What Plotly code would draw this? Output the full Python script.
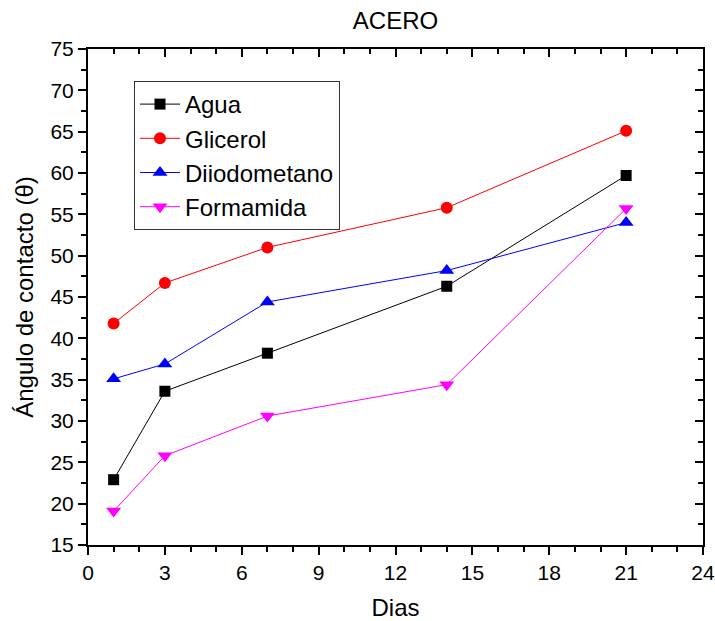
import plotly.graph_objects as go

dias = [1, 3, 7, 14, 21]
agua = [22.9, 33.6, 38.2, 46.3, 59.7]
glicerol = [41.8, 46.7, 51.0, 55.8, 65.1]
diiodometano = [35.1, 36.9, 44.4, 48.2, 54.0]
formamida = [19.1, 25.8, 30.6, 34.4, 55.7]

series = [
    ("Agua", agua, "black", "square", 11),
    ("Glicerol", glicerol, "#FF0000", "circle", 12),
    ("Diiodometano", diiodometano, "#0000FF", "triangle-up", 13),
    ("Formamida", formamida, "#FF00FF", "triangle-down", 13),
]

FONT = "Liberation Sans, Arial, sans-serif"

fig = go.Figure()
for name, vals, col, sym, sz in series:
    fig.add_trace(go.Scatter(
        x=dias, y=vals, name=name, mode="lines+markers",
        line=dict(color=col, width=1),
        marker=dict(color=col, symbol=sym, size=sz),
    ))

# invisible helper traces so the mirrored (inside-tick) axes are drawn
fig.add_trace(go.Scatter(x=dias, y=agua, xaxis="x2", yaxis="y", mode="markers",
                         marker=dict(opacity=0), showlegend=False, hoverinfo="skip"))
fig.add_trace(go.Scatter(x=dias, y=agua, xaxis="x", yaxis="y2", mode="markers",
                         marker=dict(opacity=0), showlegend=False, hoverinfo="skip"))

fig.update_layout(
    width=715, height=621,
    margin=dict(l=88, r=12, t=49, b=76, autoexpand=False),
    paper_bgcolor="white", plot_bgcolor="white",
    font=dict(family=FONT, color="black"),
    title=dict(text="ACERO", font=dict(size=24, family=FONT, color="black"),
               x=0.5, xref="paper", xanchor="center", y=1 - 21 / 621, yanchor="middle"),
    xaxis=dict(
        range=[0, 24], tick0=0, dtick=3, showgrid=False, zeroline=False, automargin=False,
        showline=True, linecolor="black", linewidth=2, mirror=True,
        ticks="outside", ticklen=8, tickwidth=2, tickcolor="black",
        tickfont=dict(size=21, family=FONT),
        minor=dict(dtick=1, ticks="outside", ticklen=5, tickwidth=2, tickcolor="black", showgrid=False),
        title=dict(text="Dias", font=dict(size=24, family=FONT), standoff=16),
    ),
    yaxis=dict(
        range=[15, 75], tick0=15, dtick=5, showgrid=False, zeroline=False, automargin=False,
        showline=True, linecolor="black", linewidth=2, mirror=True,
        ticks="outside", ticklen=8, tickwidth=2, tickcolor="black",
        tickfont=dict(size=21, family=FONT),
        minor=dict(dtick=2.5, ticks="outside", ticklen=5, tickwidth=2, tickcolor="black", showgrid=False),
        title=dict(text="Ángulo de contacto (θ)", font=dict(size=24, family=FONT), standoff=10),
    ),
    xaxis2=dict(
        overlaying="x", side="top", anchor="y", range=[0, 24], tick0=0, dtick=3, automargin=False,
        showgrid=False, zeroline=False, showline=False, showticklabels=False,
        ticks="inside", ticklen=8, tickwidth=2, tickcolor="black",
        minor=dict(dtick=1, ticks="inside", ticklen=5, tickwidth=2, tickcolor="black", showgrid=False),
    ),
    yaxis2=dict(
        overlaying="y", side="right", anchor="x", range=[15, 75], tick0=15, dtick=5, automargin=False,
        showgrid=False, zeroline=False, showline=False, showticklabels=False,
        ticks="inside", ticklen=8, tickwidth=2, tickcolor="black",
        minor=dict(dtick=2.5, ticks="inside", ticklen=5, tickwidth=2, tickcolor="black", showgrid=False),
    ),
    legend=dict(
        x=(134 - 88) / 615, y=(545 - 81) / 496, xanchor="left", yanchor="top",
        bordercolor="#333333", borderwidth=1, bgcolor="white",
        font=dict(size=24, family=FONT, color="black"),
        tracegroupgap=0, itemwidth=40,
    ),
    showlegend=True,
)

fig.write_html("out.html", config={"displayModeBar": False},
               post_script="document.body.style.margin='0';")
